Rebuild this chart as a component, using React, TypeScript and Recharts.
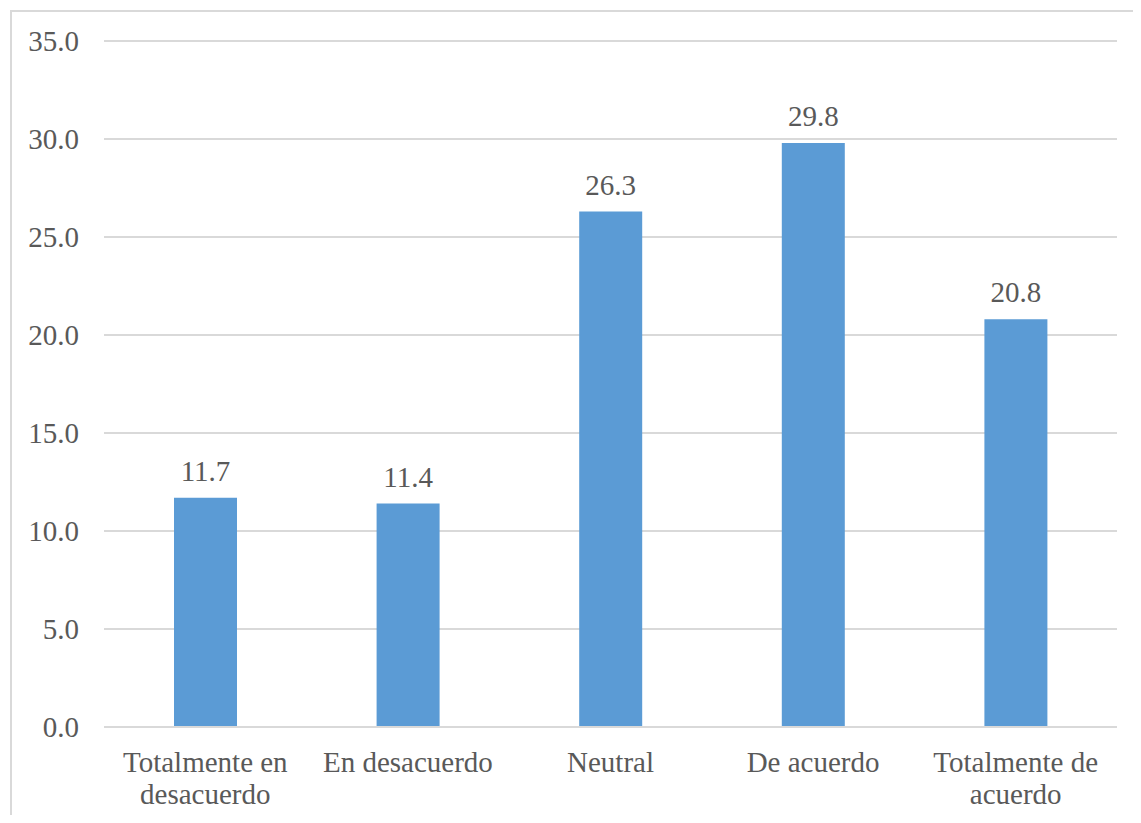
import { BarChart, Bar, XAxis, YAxis, CartesianGrid, LabelList } from "recharts";

const categories = [
  "Totalmente en desacuerdo",
  "En desacuerdo",
  "Neutral",
  "De acuerdo",
  "Totalmente de acuerdo",
];
const values = [11.7, 11.4, 26.3, 29.8, 20.8];
const yTicks = [0, 5, 10, 15, 20, 25, 30, 35];

// how the category labels break over lines, as in the picture
const labelLines: Record<string, string[]> = {
  "Totalmente en desacuerdo": ["Totalmente en", "desacuerdo"],
  "En desacuerdo": ["En desacuerdo"],
  Neutral: ["Neutral"],
  "De acuerdo": ["De acuerdo"],
  "Totalmente de acuerdo": ["Totalmente de", "acuerdo"],
};

const data = categories.map((name, i) => ({ name, value: values[i] }));

const FONT = "Liberation Serif";
const TEXT = "#595959";
const GRID = "#d9d9d9";

function CategoryTick(props: { x?: number; y?: number; payload?: { value: string } }) {
  const { x = 0, y = 0, payload } = props;
  const lines = labelLines[payload?.value ?? ""] ?? [payload?.value ?? ""];
  return (
    <text x={x} y={y} textAnchor="middle" fill={TEXT} fontFamily={FONT} fontSize={29}>
      {lines.map((l, i) => (
        <tspan key={i} x={x} dy={i === 0 ? 37 : 32}>
          {l}
        </tspan>
      ))}
    </text>
  );
}

function ValueTick(props: { x?: number; y?: number; payload?: { value: number } }) {
  const { x = 0, y = 0, payload } = props;
  return (
    <text x={x} y={y} dy="0.34em" textAnchor="end" fill={TEXT} fontFamily={FONT} fontSize={29}>
      {Number(payload?.value ?? 0).toFixed(1)}
    </text>
  );
}

// value printed above each bar
function renderBarLabel(props: { x?: number; y?: number; width?: number; value?: number }) {
  const { x = 0, y = 0, width = 0, value = 0 } = props;
  return (
    <text
      x={Number(x) + Number(width) / 2}
      y={Number(y) - 17}
      textAnchor="middle"
      fill={TEXT}
      fontFamily={FONT}
      fontSize={29}
    >
      {Number(value).toFixed(1)}
    </text>
  );
}

export default function App() {
  return (
    <div
      style={{
        position: "relative",
        width: 1141,
        height: 823,
        margin: -8,
        overflow: "hidden",
        background: "#fff",
      }}
    >
      <div
        style={{
          position: "absolute",
          left: 10,
          top: 10,
          width: 1300,
          height: 1000,
          borderLeft: `2px solid ${GRID}`,
          borderTop: `2px solid ${GRID}`,
        }}
      />
      <div style={{ position: "absolute", left: 0, top: 0 }}>
        <BarChart
          width={1141}
          height={823}
          data={data}
          margin={{ top: 41, right: 24, bottom: 0, left: 0 }}
        >
          <CartesianGrid vertical={false} stroke={GRID} strokeWidth={2} />
          <XAxis
            dataKey="name"
            height={96}
            axisLine={{ stroke: GRID, strokeWidth: 2 }}
            tickLine={false}
            tick={<CategoryTick />}
            interval={0}
          />
          <YAxis
            width={104}
            domain={[0, 35]}
            ticks={yTicks}
            axisLine={false}
            tickLine={false}
            tickSize={0}
            tickMargin={25}
            tick={<ValueTick />}
          />
          <Bar dataKey="value" fill="#5B9BD5" barSize={63} isAnimationActive={false}>
            <LabelList dataKey="value" content={renderBarLabel} />
          </Bar>
        </BarChart>
      </div>
    </div>
  );
}
